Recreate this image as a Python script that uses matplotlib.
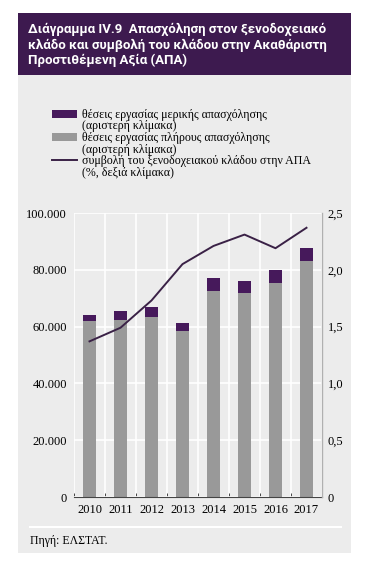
import numpy as np
import matplotlib
matplotlib.use("Agg")
import matplotlib.pyplot as plt
from matplotlib.patches import Rectangle, Patch
from matplotlib.lines import Line2D
from matplotlib.ticker import FuncFormatter

# data
years = ["2010", "2011", "2012", "2013", "2014", "2015", "2016", "2017"]
full_time = [62000, 62300, 63400, 58500, 72600, 71900, 75500, 83200]
part_time = [2100, 3200, 3500, 2800, 4600, 4200, 4400, 4600]
gva_share = [1.37, 1.49, 1.73, 2.05, 2.21, 2.31, 2.19, 2.37]

title = ("Διάγραμμα IV.9  Απασχόληση στον ξενοδοχειακό\n"
         "κλάδο και συμβολή του κλάδου στην Ακαθάριστη\n"
         "Προστιθέμενη Αξία (ΑΠΑ)")
legend_labels = ["θέσεις εργασίας μερικής απασχόλησης", "(αριστερή κλίμακα)",
                 "θέσεις εργασίας πλήρους απασχόλησης", "(αριστερή κλίμακα)",
                 "συμβολή του ξενοδοχειακού κλάδου στην ΑΠΑ", "(%, δεξιά κλίμακα)"]
source = "Πηγή: ΕΛΣΤΑΤ."

purple = "#46195b"
grey = "#999999"
panel = "#ececec"
line_col = "#3a2146"
serif = ["Liberation Serif", "DejaVu Serif"]

W, H = 376, 567
fig = plt.figure(figsize=(W / 100, H / 100), dpi=100, facecolor="white")

def fx(px):
    return px / W

def fy(py):
    return 1 - py / H

# grey panel and purple title box
fig.patches.append(Rectangle((fx(18), fy(553)), fx(333), 478 / H, transform=fig.transFigure,
                             facecolor=panel, edgecolor="none", zorder=-10))
fig.patches.append(Rectangle((fx(18), fy(75)), fx(333), 62 / H, transform=fig.transFigure,
                             facecolor="#3d1a4f", edgecolor="none", zorder=-10))
fig.text(fx(28), fy(45), title, color="white", fontsize=9.5, fontweight="bold",
         family=["Roboto", "DejaVu Sans"], va="center", ha="left", linespacing=1.25)

# main axes
ax = fig.add_axes([fx(74), fy(497), fx(248), 284 / H])
ax.set_facecolor(panel)
x = np.arange(len(years))
ax.bar(x, full_time, width=0.42, color=grey, zorder=2)
ax.bar(x, part_time, width=0.42, bottom=full_time, color=purple, zorder=2)
ax.set_xlim(-0.5, 7.5)
ax.set_ylim(0, 100000)
ax.set_yticks(np.arange(0, 100001, 20000))
ax.yaxis.set_major_formatter(FuncFormatter(lambda v, p: f"{int(v):,}".replace(",", ".")))
ax.set_xticks(x)
ax.set_xticklabels(years)
ax.set_xticks(np.arange(-0.5, 8, 1), minor=True)
ax.grid(False)
ax.yaxis.grid(True, color="white", linewidth=1.2, zorder=1)
ax.xaxis.grid(True, which="minor", color="white", linewidth=1.2, zorder=1)
ax.set_axisbelow(True)
for s in ["left", "top", "right"]:
    ax.spines[s].set_visible(False)
ax.spines["bottom"].set_color("#444444")
ax.spines["bottom"].set_linewidth(0.8)
ax.tick_params(axis="x", which="major", length=0, pad=5, labelsize=9)
ax.tick_params(axis="x", which="minor", direction="in", length=3, color="#444444", width=0.7)
ax.tick_params(axis="y", length=0, pad=5, labelsize=9)
for lab in ax.get_xticklabels() + ax.get_yticklabels():
    lab.set_family(serif)

# right axis for share of GVA
ax2 = ax.twinx()
ax2.plot(x, gva_share, color=line_col, linewidth=1.4, zorder=3)
ax2.set_ylim(0, 2.5)
ax2.set_yticks(np.arange(0, 2.51, 0.5))
ax2.yaxis.set_major_formatter(FuncFormatter(lambda v, p: "0" if v == 0 else f"{v:.1f}".replace(".", ",")))
for s in ["left", "top", "bottom"]:
    ax2.spines[s].set_visible(False)
ax2.spines["right"].set_color("#b0b0b0")
ax2.spines["right"].set_linewidth(1.0)
ax2.tick_params(axis="y", length=0, pad=4, labelsize=9)
for lab in ax2.get_yticklabels():
    lab.set_family(serif)

# legend: handles only on the first line of each entry
blank = Patch(facecolor="none", edgecolor="none")
handles = [Patch(facecolor=purple), blank, Patch(facecolor=grey), blank,
           Line2D([], [], color=line_col, linewidth=1.4), blank]
fig.legend(handles, legend_labels, loc="upper left", bbox_to_anchor=(fx(46), fy(103)),
           frameon=False, prop={"family": serif, "size": 8.6}, handlelength=2.1,
           handleheight=0.6, handletextpad=0.4, labelspacing=-0.04, borderpad=0)

# separator and source
fig.add_artist(Line2D([fx(30), fx(341)], [fy(527), fy(527)], transform=fig.transFigure,
                      color="white", linewidth=1.5))
fig.text(fx(30), fy(541), source, family=serif, fontsize=8.5, va="center", ha="left")

fig.savefig("out.png", dpi=100, facecolor="white")
